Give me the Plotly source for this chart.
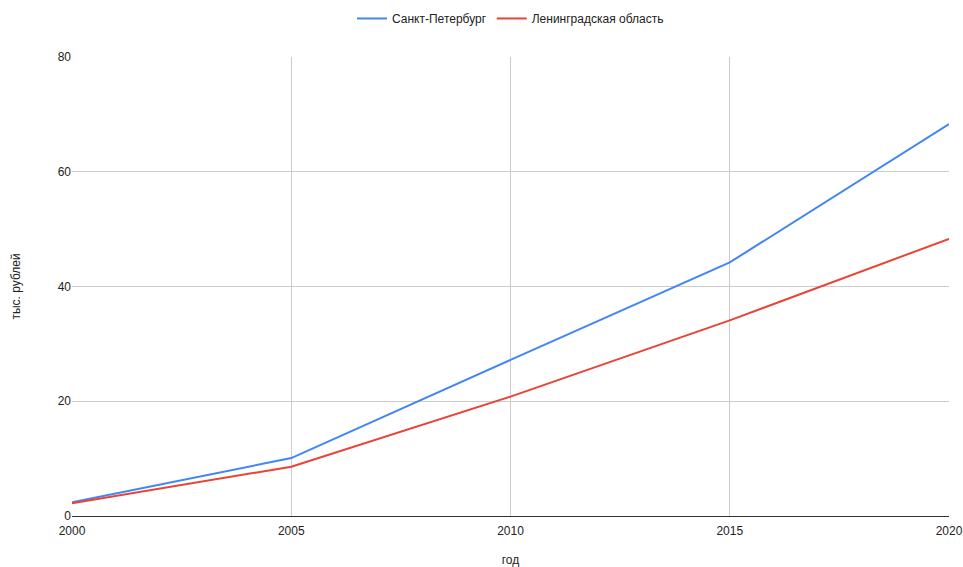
import plotly.graph_objects as go

years = [2000, 2005, 2010, 2015, 2020]
spb = [2.4, 10.1, 27.2, 44.2, 68.3]
lenobl = [2.2, 8.6, 20.8, 34.1, 48.3]
series_names = ["Санкт-Петербург", "Ленинградская область"]
x_ticks = [2000, 2005, 2010, 2015, 2020]
y_ticks = [0, 20, 40, 60, 80]

fig = go.Figure()
fig.add_trace(go.Scatter(x=years, y=spb, mode="lines", name=series_names[0],
                         line=dict(color="#4285F4", width=2)))
fig.add_trace(go.Scatter(x=years, y=lenobl, mode="lines", name=series_names[1],
                         line=dict(color="#EA4335", width=2)))

fig.update_layout(
    width=963, height=567,
    margin=dict(l=72, r=14, t=57, b=51, autoexpand=False),
    paper_bgcolor="white", plot_bgcolor="white",
    font=dict(family="Arial, Liberation Sans, sans-serif", size=12, color="#222222"),
    legend=dict(orientation="h", x=0.5, xanchor="center", y=0.993, yanchor="top",
                yref="container", font=dict(size=12, color="#222222"),
                itemwidth=30),
    showlegend=True,
)
fig.update_xaxes(range=[2000, 2020], tickvals=x_ticks, ticktext=[str(v) for v in x_ticks],
                 showgrid=True, gridcolor="#cccccc", gridwidth=1,
                 showline=True, linecolor="#333333", linewidth=1,
                 zeroline=False, ticks="", ticklen=0, automargin=False,
                 ticklabelstandoff=4,
                 title=dict(text="год", standoff=30, font=dict(size=12, color="#222222")))
fig.update_yaxes(range=[0, 80], tickvals=y_ticks,
                 showgrid=True, gridcolor="#cccccc", gridwidth=1,
                 showline=False, zeroline=False, ticks="", automargin=False,
                 title=dict(text="тыс. рублей", standoff=34, font=dict(size=12, color="#222222")))

fig.write_html("out.html")
